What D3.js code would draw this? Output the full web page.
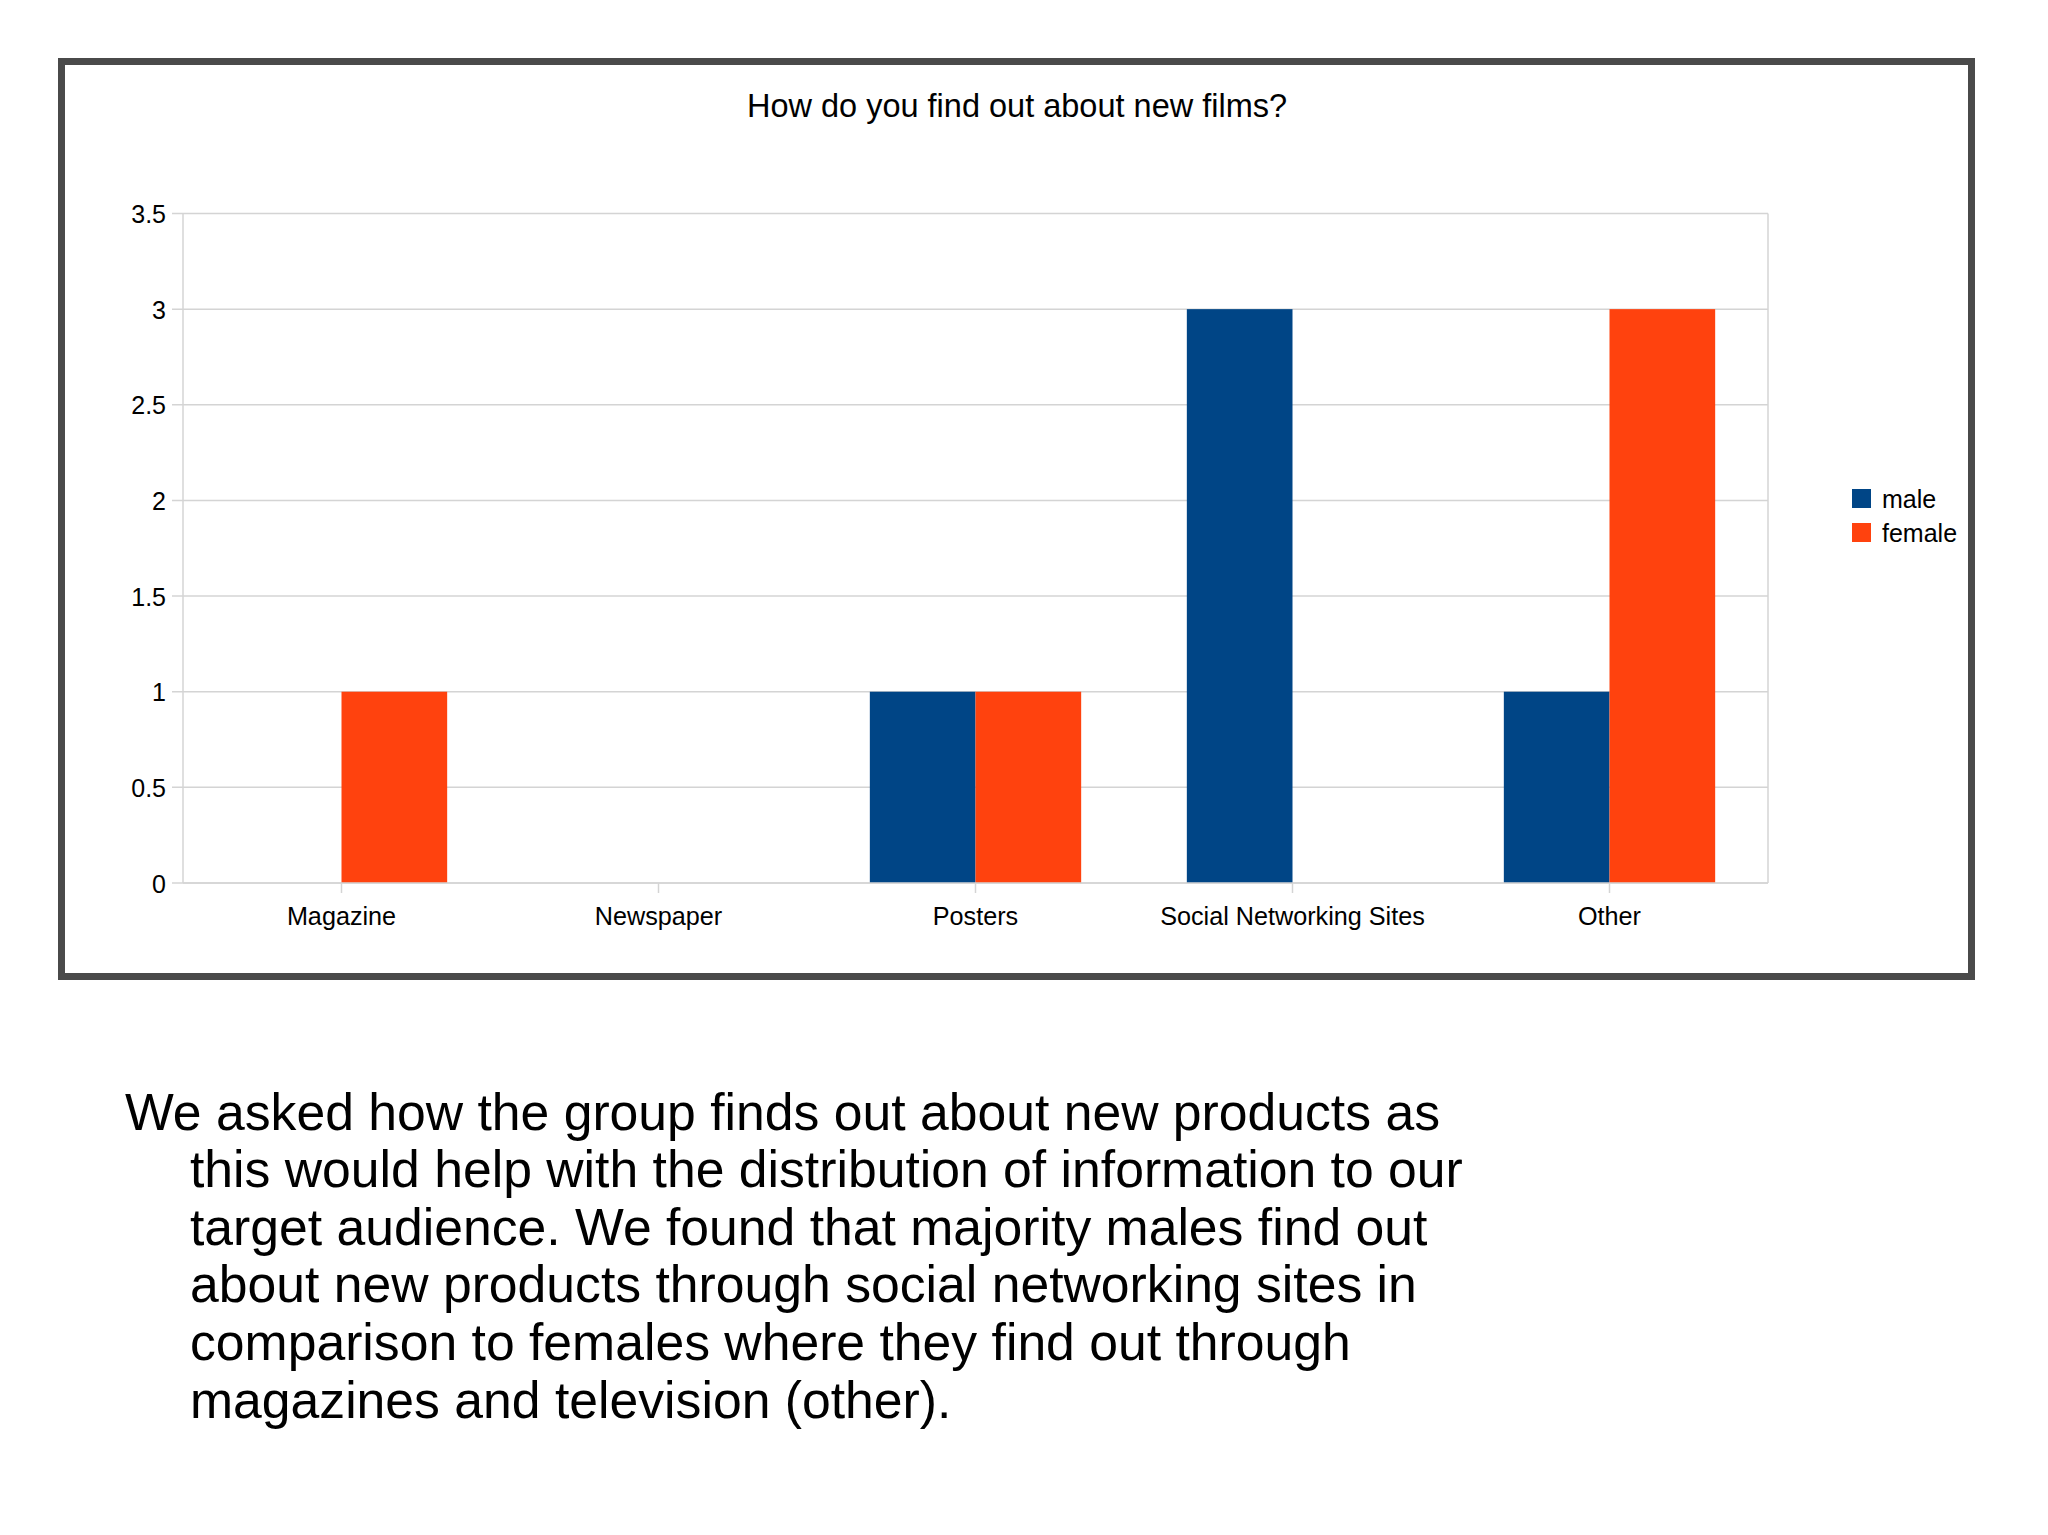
<!DOCTYPE html>
<html>
<head>
<meta charset="utf-8">
<script src="https://cdn.jsdelivr.net/npm/d3@7"></script>
<style>
  html, body { margin: 0; padding: 0; background: #ffffff; }
  svg { display: block; }
  text { font-family: "Liberation Sans", Arial, sans-serif; fill: #000; }
</style>
</head>
<body>
<svg id="chart" width="2048" height="1535"></svg>
<script>
const title = "How do you find out about new films?";
const categories = ["Magazine", "Newspaper", "Posters", "Social Networking Sites", "Other"];
const seriesNames = ["male", "female"];
const maleValues = [0, 0, 1, 3, 1];
const femaleValues = [1, 0, 1, 0, 3];
const seriesColors = ["#004586", "#ff420e"];
const yTicks = [0, 0.5, 1, 1.5, 2, 2.5, 3, 3.5];
const paragraphLines = [
  "We asked how the group finds out about new products as",
  "this would help with the distribution of information to our",
  "target audience. We found that majority males find out",
  "about new products through social networking sites in",
  "comparison to females where they find out through",
  "magazines and television (other)."
];

const svg = d3.select("#chart");

// outer frame
svg.append("rect")
  .attr("x", 61.5).attr("y", 61.5)
  .attr("width", 1910).attr("height", 915)
  .attr("fill", "#ffffff")
  .attr("stroke", "#4a4a4a")
  .attr("stroke-width", 7);

const plot = { left: 183, right: 1768, top: 213.5, bottom: 883 };

const x0 = d3.scaleBand().domain(categories).range([plot.left, plot.right]).paddingInner(0).paddingOuter(0);
const x1 = d3.scaleBand().domain(seriesNames).range([0, x0.bandwidth() * 2 / 3]).padding(0);
const y = d3.scaleLinear().domain([0, 3.5]).range([plot.bottom, plot.top]);

const gridColor = "#d4d4d4";

// gridlines
svg.append("g").selectAll("line").data(yTicks).join("line")
  .attr("x1", plot.left - 11).attr("x2", plot.right)
  .attr("y1", d => y(d)).attr("y2", d => y(d))
  .attr("stroke", gridColor).attr("stroke-width", 1.5);

// plot frame (left & right)
svg.append("line").attr("x1", plot.left).attr("x2", plot.left)
  .attr("y1", plot.top).attr("y2", plot.bottom)
  .attr("stroke", gridColor).attr("stroke-width", 1.5);
svg.append("line").attr("x1", plot.right).attr("x2", plot.right)
  .attr("y1", plot.top).attr("y2", plot.bottom)
  .attr("stroke", gridColor).attr("stroke-width", 1.5);

// y labels
svg.append("g").selectAll("text").data(yTicks).join("text")
  .attr("x", 166).attr("y", d => y(d) + 9.5)
  .attr("text-anchor", "end")
  .attr("font-size", 25)
  .text(d => d3.format("~g")(d));

// bars
const rows = categories.map((c, i) => ({ cat: c, vals: [maleValues[i], femaleValues[i]] }));
const groups = svg.append("g").selectAll("g").data(rows).join("g")
  .attr("transform", d => `translate(${x0(d.cat) + x0.bandwidth() / 6},0)`);
groups.selectAll("rect").data(d => d.vals.map((v, k) => ({ key: seriesNames[k], v, k })))
  .join("rect")
  .attr("x", d => x1(d.key))
  .attr("width", x1.bandwidth())
  .attr("y", d => y(d.v))
  .attr("height", d => y(0) - y(d.v))
  .attr("fill", d => seriesColors[d.k]);

// bottom axis line
svg.append("line").attr("x1", plot.left).attr("x2", plot.right)
  .attr("y1", plot.bottom).attr("y2", plot.bottom)
  .attr("stroke", gridColor).attr("stroke-width", 1.5);

// x ticks at category centers
svg.append("g").selectAll("line").data(categories).join("line")
  .attr("x1", d => x0(d) + x0.bandwidth() / 2).attr("x2", d => x0(d) + x0.bandwidth() / 2)
  .attr("y1", plot.bottom).attr("y2", plot.bottom + 10)
  .attr("stroke", gridColor).attr("stroke-width", 1.5);

// x labels
svg.append("g").selectAll("text").data(categories).join("text")
  .attr("x", d => x0(d) + x0.bandwidth() / 2)
  .attr("y", 925)
  .attr("text-anchor", "middle")
  .attr("font-size", 25.2)
  .text(d => d);

// title
svg.append("text")
  .attr("x", 1017).attr("y", 116.5)
  .attr("text-anchor", "middle")
  .attr("font-size", 32.5)
  .text(title);

// legend
const legend = svg.append("g").selectAll("g").data(seriesNames).join("g")
  .attr("transform", (d, i) => `translate(1852,${489 + i * 34})`);
legend.append("rect").attr("width", 19).attr("height", 19)
  .attr("fill", (d, i) => seriesColors[i]);
legend.append("text").attr("x", 30).attr("y", 19)
  .attr("font-size", 25)
  .text(d => d);

// paragraph
svg.append("g").selectAll("text").data(paragraphLines).join("text")
  .attr("x", (d, i) => i === 0 ? 125 : 190)
  .attr("y", (d, i) => 1129.5 + i * 57.6)
  .attr("font-size", 51.7)
  .text(d => d);
</script>
</body>
</html>
